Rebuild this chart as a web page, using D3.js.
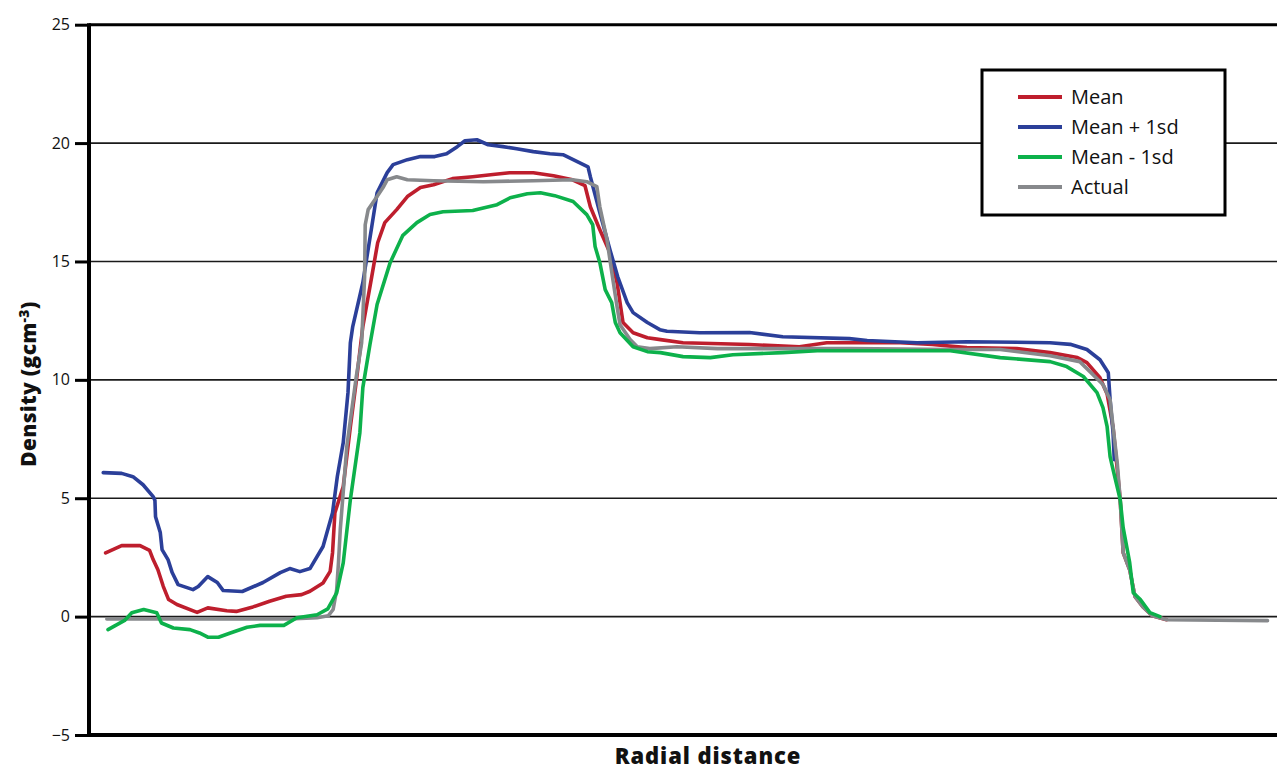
<!DOCTYPE html>
<html>
<head>
<meta charset="utf-8">
<script src="https://cdn.jsdelivr.net/npm/d3@7"></script>
<style>
  html, body { margin: 0; padding: 0; background: #fff; }
  svg { display: block; }
  text { font-family: "Open Sans", "Noto Sans", sans-serif; fill: #111; }
</style>
</head>
<body>
<svg id="chart" width="1277" height="772"></svg>
<script>
// Radial density profiles: [radial distance (arbitrary units), density g/cm^3]
const meanProfile = [
  [1.4, 2.69], [2.75, 3.0], [4.3, 3.0], [5.1, 2.8], [5.4, 2.41], [5.8, 1.98], [6.25, 1.28],
  [6.7, 0.72], [7.4, 0.51], [9.1, 0.18], [10.0, 0.37], [11.6, 0.25], [12.4, 0.22], [13.8, 0.41],
  [15.2, 0.65], [16.6, 0.86], [17.9, 0.93], [18.6, 1.07], [19.7, 1.42], [20.3, 1.91], [20.5, 2.7],
  [20.7, 4.39], [21.4, 5.49], [22.0, 8.02], [22.55, 10.14], [23.05, 12.25], [23.8, 14.36],
  [24.3, 15.79], [24.9, 16.64], [25.9, 17.19], [26.8, 17.74], [27.9, 18.12], [29.0, 18.24],
  [30.6, 18.5], [32.3, 18.58], [34.0, 18.67], [35.4, 18.75], [37.4, 18.75], [39.1, 18.62],
  [40.7, 18.45], [41.75, 18.2], [42.2, 17.31], [43.0, 16.34], [43.85, 15.37], [44.45, 14.1],
  [44.95, 12.42], [45.8, 11.99], [47.0, 11.78], [48.1, 11.7], [50.0, 11.57], [55.6, 11.49],
  [59.8, 11.4], [62.1, 11.57], [68.3, 11.57], [71.0, 11.49], [73.9, 11.36], [78.1, 11.32],
  [80.9, 11.15], [83.2, 10.94], [84.0, 10.73], [85.1, 10.09], [85.7, 9.4], [86.2, 8.0],
  [86.5, 6.5], [86.8, 4.94], [87.05, 2.7], [87.6, 1.98], [88.05, 0.84], [88.7, 0.42],
  [89.5, 0.04], [90.7, -0.13]
];

const plusOneSd = [
  [1.2, 6.08], [2.75, 6.05], [3.7, 5.91], [4.55, 5.57], [5.4, 5.07], [5.55, 4.9], [5.6, 4.22],
  [6.0, 3.55], [6.15, 2.83], [6.65, 2.41], [7.0, 1.86], [7.5, 1.35], [8.75, 1.14], [9.2, 1.27],
  [10.0, 1.69], [10.8, 1.44], [11.3, 1.1], [12.9, 1.06], [14.65, 1.44], [16.1, 1.86],
  [16.9, 2.03], [17.75, 1.9], [18.6, 2.03], [19.7, 2.96], [20.5, 4.39], [20.9, 5.91],
  [21.4, 7.35], [21.8, 9.46], [22.0, 11.57], [22.2, 12.25], [23.05, 14.1], [23.8, 16.47],
  [24.25, 17.9], [25.1, 18.75], [25.6, 19.09], [26.8, 19.3], [27.9, 19.43], [29.1, 19.43],
  [30.1, 19.55], [31.0, 19.85], [31.65, 20.1], [32.65, 20.14], [33.6, 19.93], [34.85, 19.85],
  [36.0, 19.76], [37.4, 19.64], [38.8, 19.55], [39.9, 19.51], [41.1, 19.22], [42.0, 19.0],
  [42.2, 18.58], [43.0, 17.06], [43.85, 15.5], [44.5, 14.36], [45.3, 13.26], [45.8, 12.84],
  [47.0, 12.42], [48.05, 12.12], [48.65, 12.05], [51.4, 11.99], [55.6, 12.0], [58.4, 11.82],
  [64.0, 11.74], [65.5, 11.66], [69.7, 11.57], [73.9, 11.61], [80.9, 11.57], [82.6, 11.5],
  [84.0, 11.28], [85.1, 10.85], [85.8, 10.3], [85.95, 9.16], [86.2, 7.77], [86.3, 6.63]
];

const minusOneSd = [
  [1.6, -0.55], [3.0, -0.16], [3.6, 0.16], [4.6, 0.3], [5.7, 0.16], [6.1, -0.27], [7.1, -0.48],
  [8.5, -0.55], [9.3, -0.69], [10.0, -0.87], [10.9, -0.87], [11.9, -0.69], [13.3, -0.45],
  [14.4, -0.37], [16.4, -0.37], [17.5, -0.05], [19.2, 0.08], [20.1, 0.33], [20.85, 1.0],
  [21.4, 2.27], [22.0, 4.94], [22.8, 7.77], [23.05, 9.67], [23.65, 11.49], [24.25, 13.18],
  [25.35, 14.95], [26.4, 16.09], [27.6, 16.64], [28.7, 16.98], [29.8, 17.1], [32.3, 17.15],
  [34.35, 17.4], [35.45, 17.69], [36.9, 17.86], [38.0, 17.9], [39.2, 17.78], [40.75, 17.53],
  [41.9, 16.98], [42.4, 16.55], [42.6, 15.63], [43.0, 14.95], [43.45, 13.81], [44.0, 13.26],
  [44.3, 12.42], [44.7, 11.99], [45.8, 11.4], [47.0, 11.19], [48.1, 11.15], [50.0, 10.98],
  [52.3, 10.94], [54.2, 11.06], [58.4, 11.15], [61.3, 11.23], [72.5, 11.23], [76.7, 10.94],
  [80.9, 10.77], [82.3, 10.56], [83.7, 10.14], [84.85, 9.46], [85.35, 8.83], [85.7, 8.02],
  [85.95, 6.76], [86.2, 6.21], [86.8, 4.94], [87.05, 3.76], [87.6, 2.28], [87.9, 1.01],
  [88.5, 0.72], [89.3, 0.17], [90.15, 0.0]
];

const actualProfile = [
  [1.5, -0.1], [16.9, -0.1], [19.2, -0.05], [20.15, 0.04], [20.55, 0.3], [20.85, 1.14],
  [21.0, 2.28], [21.15, 3.67], [21.7, 7.18], [22.5, 10.14], [22.95, 11.57], [23.2, 14.36],
  [23.25, 16.55], [23.5, 17.19], [24.25, 17.74], [24.75, 18.12], [25.1, 18.45], [25.9, 18.58],
  [26.8, 18.45], [29.0, 18.41], [33.2, 18.37], [37.4, 18.41], [40.7, 18.45], [41.9, 18.37],
  [42.75, 18.16], [43.0, 17.31], [43.6, 15.92], [44.1, 14.23], [44.45, 13.09], [44.7, 12.33],
  [45.55, 11.7], [46.15, 11.4], [47.2, 11.32], [49.5, 11.4], [52.9, 11.32], [64.1, 11.32],
  [72.5, 11.28], [76.7, 11.28], [80.9, 11.02], [83.4, 10.77], [85.35, 9.8], [85.95, 9.16],
  [86.2, 8.02], [86.55, 6.5], [86.8, 4.94], [87.05, 2.7], [87.6, 1.98], [88.05, 0.84],
  [88.7, 0.42], [89.5, 0.04], [90.75, -0.13], [99.2, -0.17]
];

const yTicks = [-5, 0, 5, 10, 15, 20, 25];

const seriesNames = ["Mean", "Mean + 1sd", "Mean - 1sd", "Actual"];
const seriesColors = ["#be1e2d", "#2b3f99", "#0db14b", "#87898c"];
const seriesData = [meanProfile, plusOneSd, minusOneSd, actualProfile];
// stacking order of the curves (later drawn on top)
const drawOrder = [0, 1, 3, 2];

const svg = d3.select("#chart");
const x = d3.scaleLinear().domain([0, 100]).range([89, 1277]);
const y = d3.scaleLinear().domain([-5, 25]).range([735, 24.7]);

// horizontal gridlines
svg.append("g")
  .selectAll("line")
  .data(yTicks.filter(t => t > -5))
  .join("line")
  .attr("x1", x(0)).attr("x2", x(100))
  .attr("y1", d => y(d)).attr("y2", d => y(d))
  .attr("stroke", d => d === 25 ? "#000" : "#1a1a1a")
  .attr("stroke-width", d => d === 25 ? 3 : 1.6);

// y axis with outward ticks
const yAxis = d3.axisLeft(y).tickValues(yTicks).tickSize(14).tickPadding(5);
const gy = svg.append("g").attr("transform", `translate(${x(0)},0)`).call(yAxis);
gy.select(".domain").remove();
gy.selectAll(".tick line").attr("stroke", "#000").attr("stroke-width", 3);
gy.selectAll(".tick text")
  .attr("font-size", 16)
  .attr("font-family", "'Open Sans', 'Noto Sans', sans-serif")
  .attr("fill", "#111");

// axis lines
svg.append("line")
  .attr("x1", x(0)).attr("x2", x(0))
  .attr("y1", y(25) - 1.5).attr("y2", y(-5) + 2)
  .attr("stroke", "#000").attr("stroke-width", 4);
svg.append("line")
  .attr("x1", x(0) - 2).attr("x2", x(100))
  .attr("y1", y(-5)).attr("y2", y(-5))
  .attr("stroke", "#000").attr("stroke-width", 4);

// density curves
const line = d3.line().x(d => x(d[0])).y(d => y(d[1])).curve(d3.curveLinear);
svg.append("g")
  .selectAll("path")
  .data(drawOrder)
  .join("path")
  .attr("d", i => line(seriesData[i]))
  .attr("fill", "none")
  .attr("stroke", i => seriesColors[i])
  .attr("stroke-width", 3.6)
  .attr("stroke-linejoin", "round")
  .attr("stroke-linecap", "round");

// axis titles
svg.append("text")
  .attr("x", 708).attr("y", 764)
  .attr("text-anchor", "middle")
  .attr("font-size", 22).attr("font-weight", 800)
  .attr("letter-spacing", 0.9)
  .text("Radial distance");

const yTitle = svg.append("text")
  .attr("transform", "translate(36,384) rotate(-90)")
  .attr("text-anchor", "middle")
  .attr("font-size", 21).attr("font-weight", 800)
  .attr("letter-spacing", 0.3);
yTitle.append("tspan").text("Density (gcm");
yTitle.append("tspan").attr("dy", -7).attr("font-size", 14).text("-3");
yTitle.append("tspan").attr("dy", 7).text(")");

// legend
const legend = svg.append("g");
legend.append("rect")
  .attr("x", 982).attr("y", 70).attr("width", 243).attr("height", 145)
  .attr("fill", "#fff").attr("stroke", "#000").attr("stroke-width", 3);
const items = legend.selectAll("g.item")
  .data(seriesNames)
  .join("g")
  .attr("class", "item")
  .attr("transform", (d, i) => `translate(1018,${97 + i * 30})`);
items.append("line")
  .attr("x1", 0).attr("x2", 44)
  .attr("stroke", (d, i) => seriesColors[i])
  .attr("stroke-width", 4);
items.append("text")
  .attr("x", 53).attr("dy", "0.35em")
  .attr("font-size", 20)
  .text(d => d);
</script>
</body>
</html>
